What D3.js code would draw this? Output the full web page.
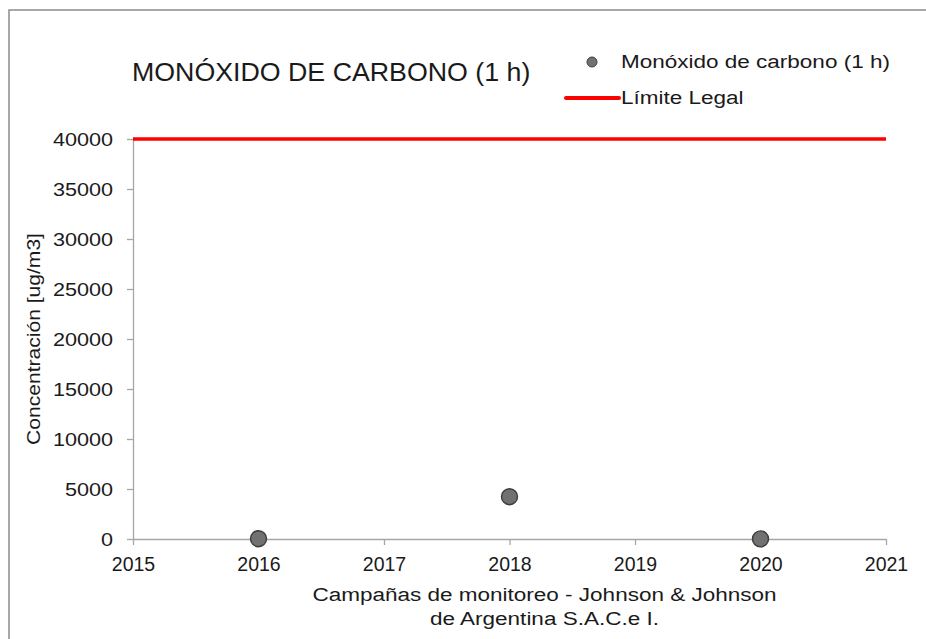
<!DOCTYPE html>
<html>
<head>
<meta charset="utf-8">
<script src="https://cdn.jsdelivr.net/npm/d3@7"></script>
<style>
  body { margin: 0; background: #fff; }
  svg text { font-family: 'Liberation Sans', Arial, sans-serif; fill: #1a1a1a; }
</style>
</head>
<body>
<div id="chart"></div>
<script>
const years = [2016, 2018, 2020];
const coValues = [30, 4230, 10];
const legalLimit = 40000;
const xTicks = [2015, 2016, 2017, 2018, 2019, 2020, 2021];
const yTicks = [0, 5000, 10000, 15000, 20000, 25000, 30000, 35000, 40000];
const chartTitle = 'MONÓXIDO DE CARBONO (1 h)';
const seriesName = 'Monóxido de carbono (1 h)';
const limitName = 'Límite Legal';
const xTitle = ['Campañas de monitoreo - Johnson & Johnson', 'de Argentina S.A.C.e I.'];
const yTitle = 'Concentración [ug/m3]';

const W = 926, H = 639;
const margin = { top: 139, right: 40, bottom: 100, left: 133 };
const axisColor = '#a6a6a6';

const svg = d3.select('#chart').append('svg')
  .attr('width', W).attr('height', H);

// outer frame (runs off the right and bottom edges)
svg.append('rect')
  .attr('x', 9).attr('y', 10).attr('width', 1000).attr('height', 1000)
  .attr('fill', 'none').attr('stroke', '#8c8c8c').attr('stroke-width', 1.5);

const x = d3.scaleLinear().domain([2015, 2021]).range([margin.left, W - margin.right]);
const y = d3.scaleLinear().domain([0, 40000]).range([H - margin.bottom, margin.top]);

const gx = svg.append('g')
  .attr('transform', `translate(0, ${y(0)})`)
  .call(d3.axisBottom(x).tickValues(xTicks).tickFormat(d3.format('d')).tickSize(6).tickSizeOuter(0));
gx.selectAll('path, line').attr('stroke', axisColor).attr('stroke-width', 1.3);
gx.selectAll('text')
  .attr('font-size', 19.5).attr('fill', '#1a1a1a')
  .attr('y', 0).attr('dy', 32).attr('font-family', null);

const gy = svg.append('g')
  .attr('transform', `translate(${x(2015)}, 0)`)
  .call(d3.axisLeft(y).tickValues(yTicks).tickFormat(d3.format('d')).tickSize(6).tickSizeOuter(0));
gy.selectAll('path, line').attr('stroke', axisColor).attr('stroke-width', 1.3);
gy.selectAll('text')
  .attr('class', 'stretch').attr('data-s', 1.2)
  .attr('font-size', 18).attr('fill', '#1a1a1a')
  .attr('x', -20).attr('dy', '0.36em').attr('font-family', null);
svg.selectAll('.domain').attr('stroke', axisColor);

// legal limit line
svg.append('line')
  .attr('x1', x(2015)).attr('x2', x(2021))
  .attr('y1', y(legalLimit)).attr('y2', y(legalLimit))
  .attr('stroke', '#ff0000').attr('stroke-width', 3.5);

// measured points
svg.selectAll('.pt').data(years.map((yr, i) => ({ yr, v: coValues[i] })))
  .join('circle')
  .attr('class', 'pt')
  .attr('cx', d => x(d.yr)).attr('cy', d => y(d.v)).attr('r', 8)
  .attr('fill', '#717171').attr('stroke', '#3c3c3c').attr('stroke-width', 1.4);

// title
svg.append('text')
  .attr('class', 'stretch').attr('data-s', 1.07)
  .attr('x', 132).attr('y', 81).attr('font-size', 25)
  .text(chartTitle);

// legend
svg.append('circle').attr('cx', 592).attr('cy', 62).attr('r', 5)
  .attr('fill', '#717171').attr('stroke', '#3c3c3c').attr('stroke-width', 1);
svg.append('text').attr('class', 'stretch').attr('data-s', 1.25)
  .attr('x', 621).attr('y', 68).attr('font-size', 18).text(seriesName);
svg.append('line').attr('x1', 566).attr('x2', 619).attr('y1', 98).attr('y2', 98)
  .attr('stroke', '#ff0000').attr('stroke-width', 4).attr('stroke-linecap', 'round');
svg.append('text').attr('class', 'stretch').attr('data-s', 1.25)
  .attr('x', 621).attr('y', 104).attr('font-size', 18).text(limitName);

// axis titles
const cx = (x(2015) + x(2021)) / 2 + 35;
svg.selectAll('.xt').data(xTitle).join('text')
  .attr('class', 'stretch').attr('data-s', 1.25)
  .attr('x', cx).attr('y', (d, i) => 601 + i * 24)
  .attr('text-anchor', 'middle').attr('font-size', 18)
  .text(d => d);

svg.append('text')
  .attr('class', 'stretch').attr('data-s', 1.17)
  .attr('transform', `translate(40, ${y(20000) - 0}) rotate(-90)`)
  .attr('text-anchor', 'middle').attr('font-size', 18)
  .text(yTitle);

// the source renders its labels a little wider than plain Arial
svg.selectAll('.stretch').each(function () {
  const t = d3.select(this);
  const len = this.getComputedTextLength() * (+t.attr('data-s'));
  t.attr('textLength', len).attr('lengthAdjust', 'spacingAndGlyphs');
});
</script>
</body>
</html>
